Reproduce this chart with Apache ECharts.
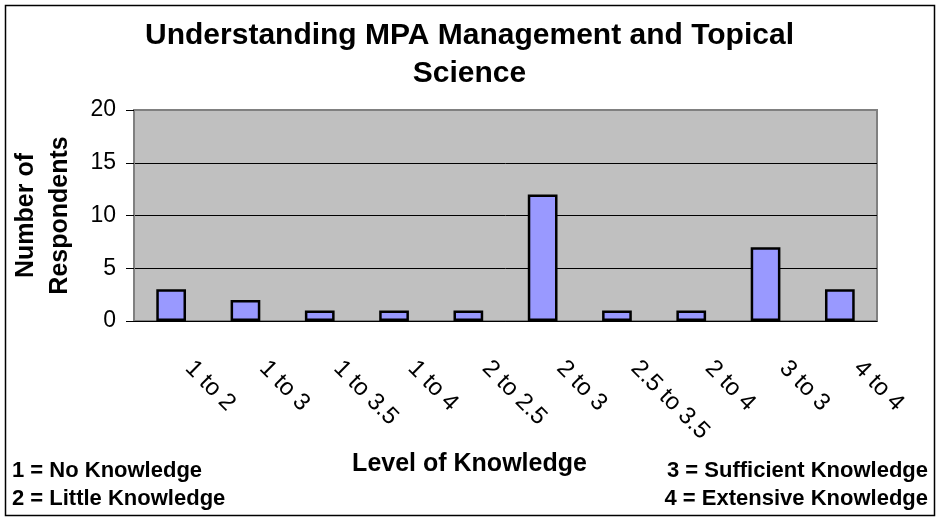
<!DOCTYPE html>
<html lang="en">
<head>
  <meta charset="UTF-8">
  <title>Understanding MPA Management and Topical Science</title>
  <script src="https://cdn.jsdelivr.net/npm/echarts@6/dist/echarts.min.js"></script>
  <style>
    html, body { margin: 0; padding: 0; background: #fff; }
    #chart { width: 939px; height: 521px; }
  </style>
</head>
<body>
  <div id="chart"></div>
  <script>
    // data
    const levels = ['1 to 2', '1 to 3', '1 to 3.5', '1 to 4', '2 to 2.5', '2 to 3', '2.5 to 3.5', '2 to 4', '3 to 3', '4 to 4'];
    const respondents = [3, 2, 1, 1, 1, 12, 1, 1, 7, 3];
    const keyLeft = ['1 = No Knowledge', '2 = Little Knowledge'];
    const keyRight = ['3 = Sufficient Knowledge', '4 = Extensive Knowledge'];

    const font = '"Liberation Sans", Arial, sans-serif';
    const chart = echarts.init(document.getElementById('chart'));

    const keyStyle = { fontFamily: font, fontSize: 22, fontWeight: 'bold', fill: '#000' };

    const option = {
      backgroundColor: '#fff',
      animation: false,
      title: {
        text: 'Understanding MPA Management and Topical\nScience',
        left: 'center',
        top: 12,
        textStyle: { fontFamily: font, fontSize: 30, fontWeight: 'bold', color: '#000', lineHeight: 38 }
      },
      grid: {
        left: 134, right: 62, top: 110, bottom: 200,
        outerBoundsMode: 'none',
        containLabel: false,
        show: true,
        backgroundColor: '#C0C0C0',
        borderColor: '#808080',
        borderWidth: 2
      },
      xAxis: {
        type: 'category',
        data: levels,
        axisLine: { lineStyle: { color: '#000', width: 1 } },
        axisTick: { length: 7, lineStyle: { color: '#000' } },
        axisLabel: {
          rotate: -45,
          margin: 26,
          padding: [0, 0, 0, 25],
          fontFamily: font,
          fontSize: 24,
          color: '#000'
        }
      },
      yAxis: {
        type: 'value',
        min: 0,
        max: 20,
        interval: 5,
        name: 'Number of\nRespondents',
        nameLocation: 'middle',
        nameGap: 57,
        nameTextStyle: { fontFamily: font, fontSize: 25, fontWeight: 'bold', color: '#000', lineHeight: 34 },
        axisLine: { show: true, lineStyle: { color: '#808080', width: 2 } },
        axisTick: { show: true, length: 8, lineStyle: { color: '#000' } },
        axisLabel: { margin: 18, fontFamily: font, fontSize: 23, color: '#000' },
        splitLine: { lineStyle: { color: ['#000', '#000', '#000', '#000', '#808080'], width: 1 } }
      },
      series: [{
        type: 'bar',
        data: respondents,
        barWidth: '40%',
        itemStyle: { color: '#9999FF', borderColor: '#000', borderWidth: 2.5 }
      }],
      graphic: [
        {
          type: 'rect',
          shape: { x: 5.5, y: 5.5, width: 929, height: 510 },
          style: { fill: null, stroke: '#000', lineWidth: 1.5 },
          silent: true
        },
        {
          type: 'text', left: 'center', top: 452,
          style: { text: 'Level of Knowledge', fontFamily: font, fontSize: 25, fontWeight: 'bold', fill: '#000' }
        },
        {
          type: 'text', left: 12, top: 460,
          style: Object.assign({ text: keyLeft[0] }, keyStyle)
        },
        {
          type: 'text', left: 12, top: 488,
          style: Object.assign({ text: keyLeft[1] }, keyStyle)
        },
        {
          type: 'text', right: 11, top: 460,
          style: Object.assign({ text: keyRight[0] }, keyStyle)
        },
        {
          type: 'text', right: 11, top: 488,
          style: Object.assign({ text: keyRight[1] }, keyStyle)
        }
      ]
    };

    chart.setOption(option);
  </script>
</body>
</html>
